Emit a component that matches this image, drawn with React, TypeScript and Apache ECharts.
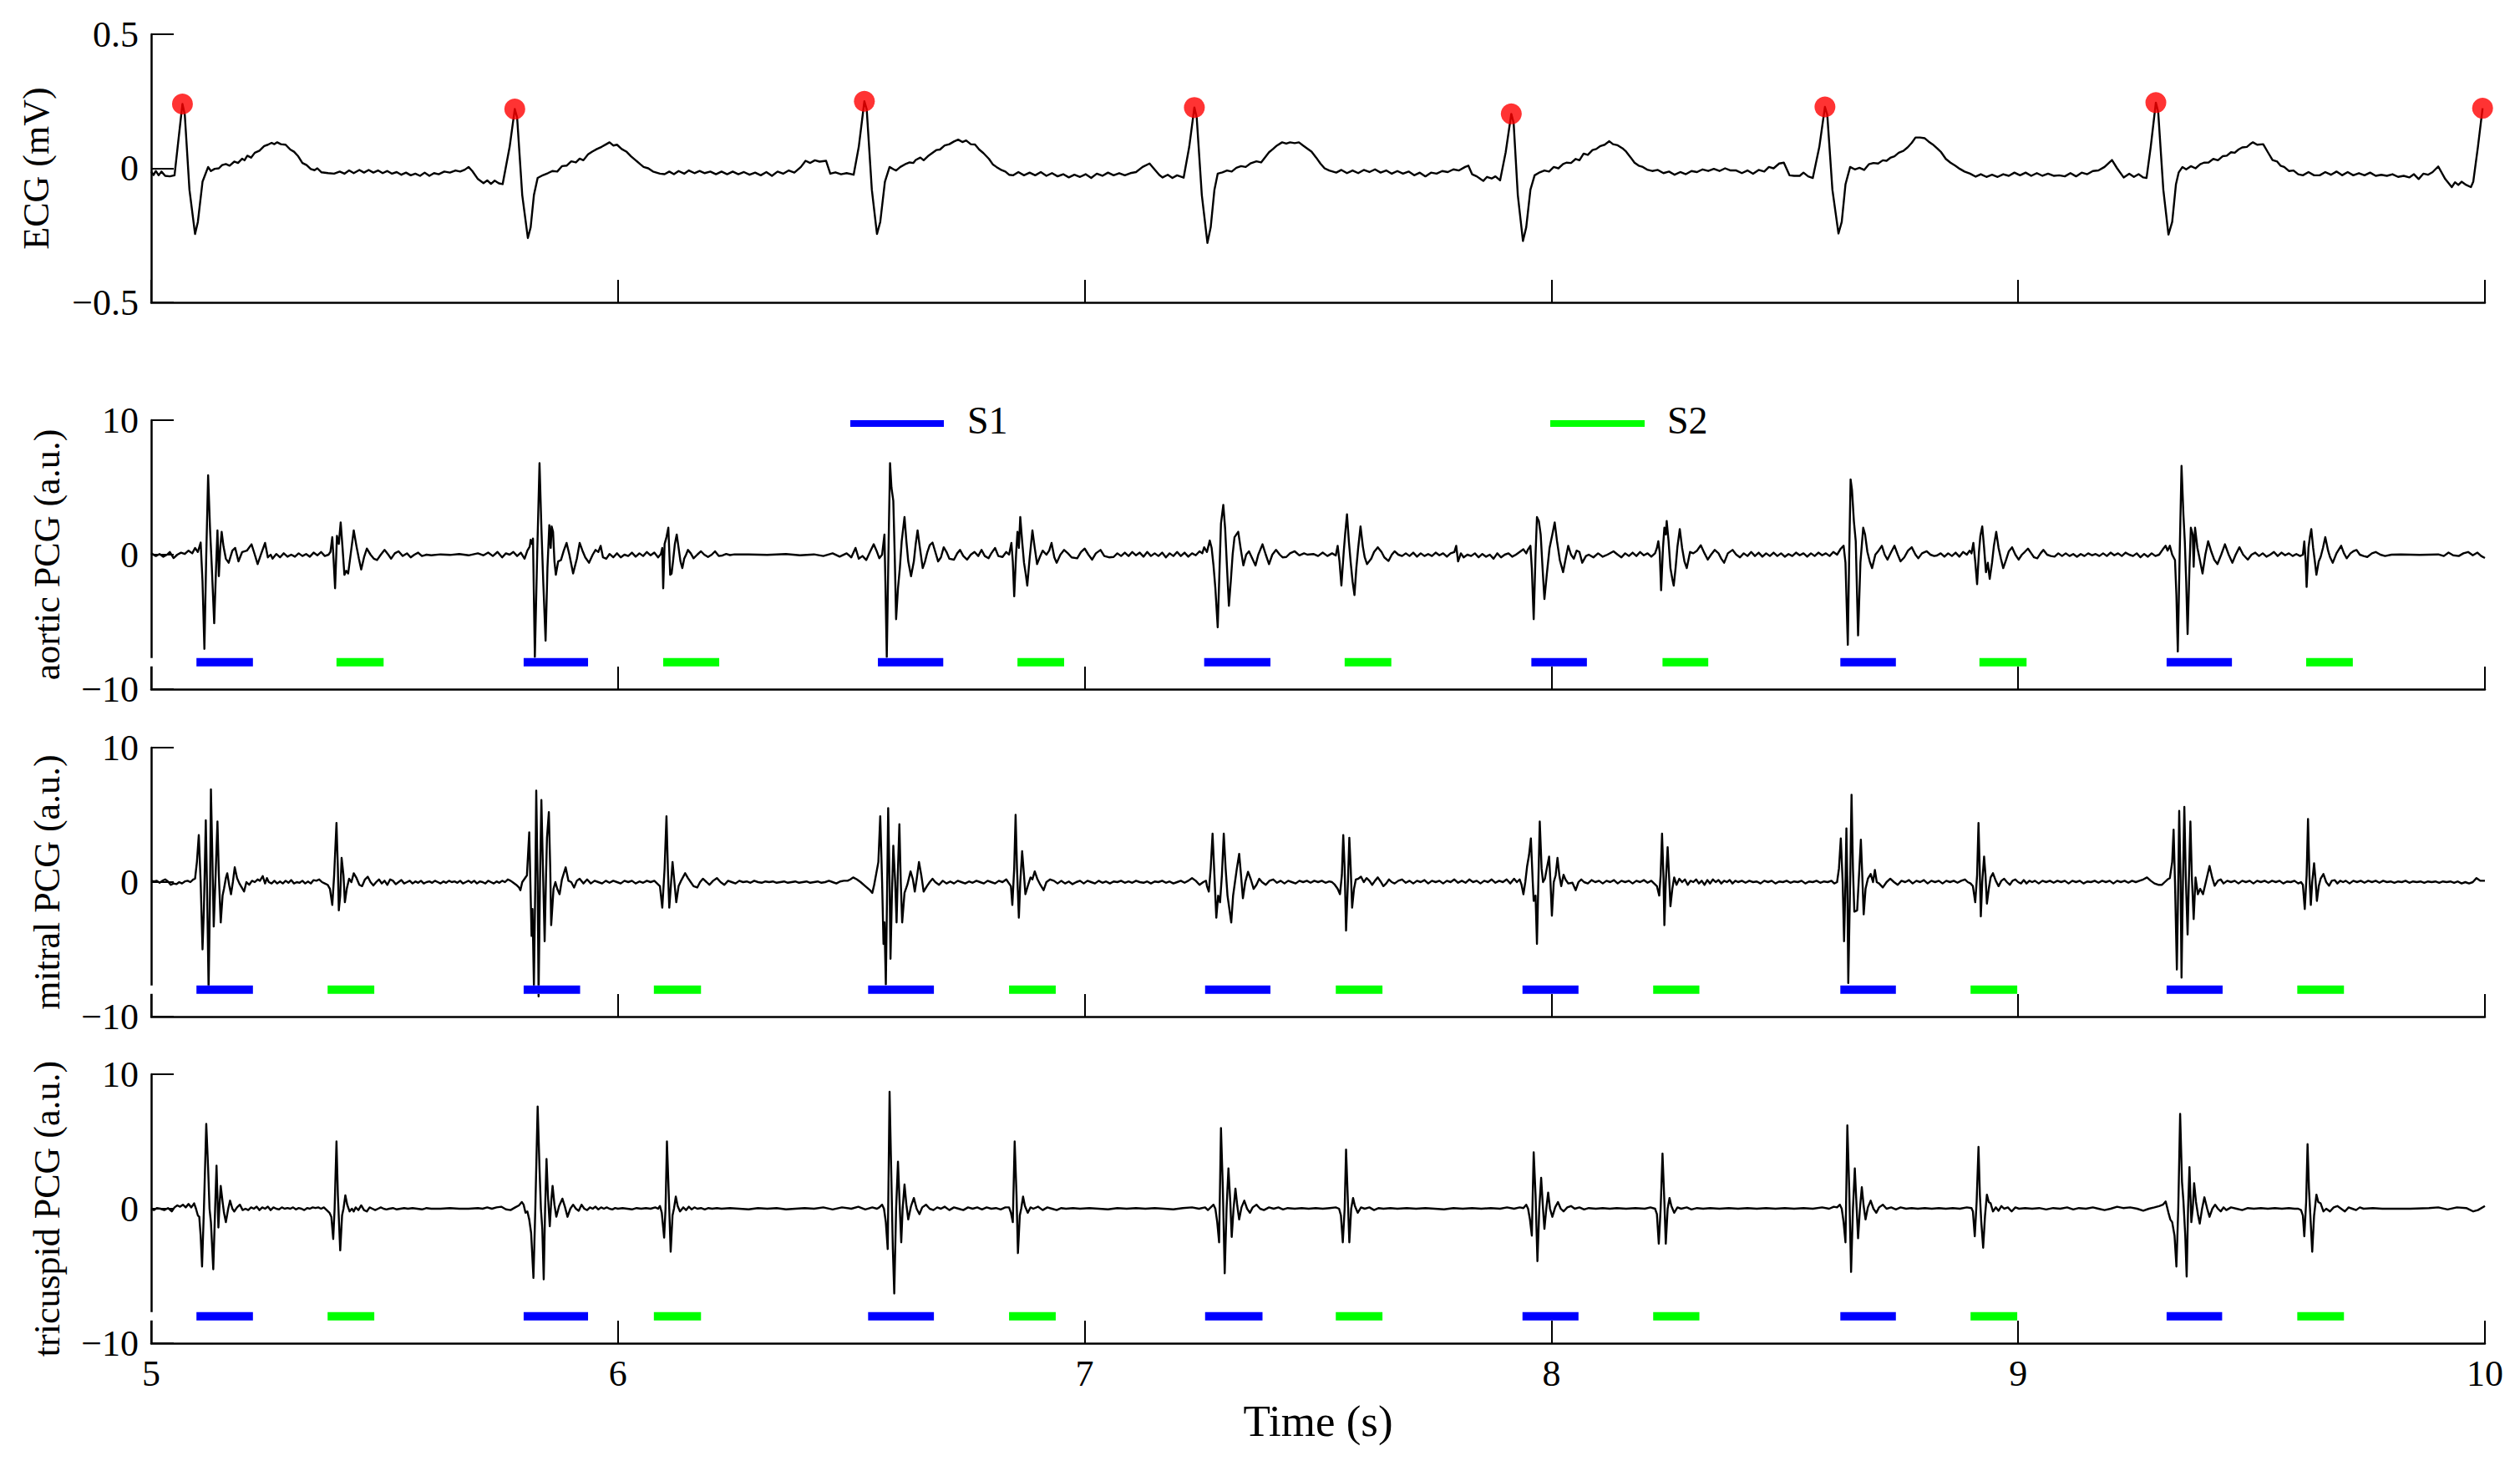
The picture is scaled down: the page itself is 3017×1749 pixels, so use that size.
import React, { useEffect, useRef } from 'react';
import * as echarts from 'echarts';

// ---------- axis settings ----------
const X_MIN = 5;
const X_MAX = 10;
const X_INTERVAL = 1;
const ECG_RANGE = { min: -0.5, max: 0.5, interval: 0.5 };
const PCG_RANGE = { min: -10, max: 10, interval: 10 };
const SEG_LEVEL = -8;
const X_TITLE = 'Time (s)';
const Y_TITLES = ['ECG (mV)', 'aortic PCG (a.u.)', 'mitral PCG (a.u.)', 'tricuspid PCG (a.u.)'];

// ---------- ECG (mV) ----------
const ecg: number[][] = [
  [5.000,-0.012],[5.005,-0.025],[5.010,-0.010],[5.016,-0.026],[5.022,-0.012],[5.030,-0.028],[5.040,-0.030],[5.050,-0.026],
  [5.058,0.10],[5.067,0.240],[5.072,0.20],[5.082,-0.08],[5.094,-0.245],[5.100,-0.20],[5.110,-0.05],[5.122,0.005],[5.128,-0.010],[5.136,-0.002],[5.145,0.000],[5.152,0.012],[5.160,0.016],[5.168,0.010],[5.178,0.025],[5.186,0.020],[5.195,0.036],[5.200,0.030],[5.206,0.047],[5.214,0.040],[5.222,0.058],[5.232,0.066],[5.242,0.083],[5.250,0.088],[5.258,0.095],[5.264,0.090],[5.270,0.097],[5.278,0.090],[5.288,0.088],[5.298,0.070],[5.306,0.062],[5.315,0.045],[5.324,0.020],[5.333,0.012],[5.342,-0.003],[5.350,-0.007],[5.356,0.000],[5.365,-0.015],[5.379,-0.018],
  [5.392,-0.020],[5.404,-0.012],[5.414,-0.020],[5.424,-0.008],[5.434,-0.018],[5.446,-0.006],[5.456,-0.016],[5.466,-0.006],[5.476,-0.016],[5.486,-0.008],[5.496,-0.018],[5.506,-0.010],[5.516,-0.020],[5.526,-0.014],[5.536,-0.024],[5.546,-0.016],[5.556,-0.026],[5.566,-0.020],[5.576,-0.028],[5.586,-0.016],[5.596,-0.028],[5.606,-0.018],[5.616,-0.022],[5.628,-0.012],[5.640,-0.016],[5.652,-0.008],[5.662,-0.012],
  [5.672,-0.005],[5.680,0.005],[5.688,-0.010],[5.700,-0.040],[5.712,-0.055],[5.720,-0.045],[5.728,-0.058],[5.736,-0.046],[5.745,-0.056],[5.753,-0.059],
  [5.768,0.08],[5.779,0.221],[5.784,0.19],[5.795,-0.10],[5.807,-0.26],[5.813,-0.22],[5.820,-0.10],[5.828,-0.036],[5.840,-0.025],[5.850,-0.018],[5.860,-0.010],[5.870,-0.012],[5.880,0.008],[5.890,0.010],[5.900,0.026],[5.910,0.022],[5.918,0.036],[5.926,0.030],[5.936,0.052],[5.945,0.0625],[5.955,0.072],[5.965,0.080],[5.975,0.090],[5.982,0.097],[5.990,0.085],[5.998,0.088],[6.008,0.072],[6.018,0.0625],[6.028,0.045],[6.038,0.030],[6.048,0.015],[6.055,0.005],[6.065,0.000],[6.075,-0.012],[6.090,-0.020],
  [6.100,-0.022],[6.110,-0.012],[6.120,-0.022],[6.130,-0.010],[6.142,-0.020],[6.152,-0.008],[6.164,-0.018],[6.175,-0.010],[6.186,-0.018],[6.198,-0.012],[6.210,-0.022],[6.222,-0.012],[6.234,-0.022],[6.246,-0.012],[6.258,-0.022],[6.270,-0.014],[6.282,-0.024],[6.294,-0.016],[6.306,-0.026],[6.318,-0.014],[6.330,-0.028],[6.342,-0.012],[6.354,-0.020],[6.366,-0.008],[6.378,-0.016],
  [6.392,0.005],[6.402,0.028],[6.412,0.020],[6.422,0.030],[6.432,0.025],[6.446,0.028],[6.455,-0.020],[6.466,-0.015],[6.478,-0.022],[6.490,-0.018],[6.505,-0.024],
  [6.516,0.08],[6.528,0.250],[6.533,0.22],[6.544,-0.08],[6.555,-0.245],[6.562,-0.20],[6.572,-0.05],[6.582,0.005],[6.590,-0.003],[6.596,-0.008],[6.605,0.005],[6.615,0.015],[6.625,0.022],[6.633,0.020],[6.638,0.031],[6.648,0.040],[6.655,0.030],[6.664,0.045],[6.672,0.055],[6.682,0.068],[6.690,0.070],[6.700,0.085],[6.710,0.090],[6.720,0.100],[6.729,0.107],[6.738,0.098],[6.746,0.104],[6.756,0.090],[6.765,0.089],[6.774,0.070],[6.783,0.057],[6.795,0.035],[6.803,0.015],[6.811,0.005],[6.820,-0.005],[6.830,-0.012],[6.838,-0.024],[6.847,-0.026],
  [6.858,-0.014],[6.870,-0.026],[6.882,-0.016],[6.894,-0.026],[6.906,-0.014],[6.918,-0.028],[6.930,-0.018],[6.942,-0.030],[6.954,-0.022],[6.966,-0.034],[6.978,-0.024],[6.990,-0.032],[7.002,-0.022],[7.014,-0.036],[7.026,-0.020],[7.038,-0.028],[7.050,-0.016],[7.062,-0.026],[7.074,-0.018],[7.086,-0.026],[7.098,-0.018],[7.110,-0.014],
  [7.124,0.005],[7.139,0.018],[7.150,-0.005],[7.160,-0.025],[7.167,-0.034],[7.178,-0.024],[7.188,-0.036],[7.198,-0.026],[7.212,-0.035],
  [7.224,0.08],[7.235,0.227],[7.240,0.19],[7.251,-0.10],[7.263,-0.278],[7.270,-0.22],[7.278,-0.08],[7.285,-0.020],[7.295,-0.015],[7.305,-0.008],[7.315,-0.012],[7.325,0.002],[7.335,0.008],[7.345,0.005],[7.355,0.018],[7.368,0.026],[7.378,0.022],[7.386,0.040],[7.395,0.060],[7.404,0.073],[7.412,0.085],[7.423,0.097],[7.432,0.092],[7.440,0.097],[7.450,0.094],[7.459,0.097],[7.468,0.085],[7.476,0.075],[7.486,0.0625],[7.496,0.040],[7.505,0.018],[7.514,0.000],[7.524,-0.008],
  [7.539,-0.016],[7.550,-0.006],[7.562,-0.018],[7.574,-0.008],[7.586,-0.018],[7.598,-0.006],[7.610,-0.014],[7.622,-0.004],[7.634,-0.016],[7.646,-0.008],[7.658,-0.020],[7.670,-0.010],[7.682,-0.020],[7.694,-0.012],[7.706,-0.026],[7.718,-0.016],[7.730,-0.030],[7.742,-0.016],[7.754,-0.020],[7.766,-0.010],[7.778,-0.014],[7.790,-0.004],[7.802,-0.008],[7.815,0.005],
  [7.822,0.010],[7.830,-0.022],[7.840,-0.030],[7.848,-0.040],[7.854,-0.047],[7.862,-0.032],[7.872,-0.038],[7.880,-0.030],[7.890,-0.045],
  [7.902,0.06],[7.914,0.203],[7.919,0.17],[7.928,-0.10],[7.939,-0.271],[7.946,-0.22],[7.955,-0.08],[7.964,-0.026],[7.975,-0.015],[7.985,-0.008],[7.995,-0.012],[8.005,0.005],[8.015,0.000],[8.025,0.016],[8.032,0.021],[8.042,0.020],[8.052,0.035],[8.060,0.030],[8.069,0.055],[8.078,0.050],[8.088,0.068],[8.096,0.072],[8.105,0.083],[8.114,0.088],[8.124,0.101],[8.132,0.090],[8.142,0.086],[8.152,0.075],[8.160,0.0625],[8.170,0.040],[8.178,0.021],[8.187,0.010],[8.196,0.005],[8.205,-0.005],
  [8.216,-0.010],[8.228,-0.006],[8.240,-0.018],[8.252,-0.012],[8.264,-0.024],[8.276,-0.014],[8.288,-0.022],[8.300,-0.010],[8.312,-0.014],[8.324,-0.004],[8.336,-0.010],[8.348,-0.002],[8.360,-0.010],[8.372,0.000],[8.384,-0.008],[8.396,-0.008],[8.408,-0.018],[8.420,-0.008],[8.432,-0.020],[8.444,-0.006],[8.456,-0.012],[8.466,0.005],[8.476,0.000],[8.488,0.018],[8.498,0.021],
  [8.510,-0.026],[8.520,-0.028],[8.532,-0.028],[8.540,-0.016],[8.550,-0.030],[8.560,-0.036],
  [8.574,0.08],[8.586,0.229],[8.591,0.20],[8.602,-0.08],[8.615,-0.243],[8.622,-0.20],[8.630,-0.06],[8.640,0.005],[8.650,-0.004],[8.660,0.002],[8.670,-0.006],[8.680,0.015],[8.690,0.020],[8.700,0.018],[8.710,0.030],[8.718,0.028],[8.726,0.039],[8.735,0.045],[8.744,0.058],[8.754,0.065],[8.763,0.078],[8.772,0.095],[8.780,0.115],[8.790,0.115],[8.800,0.112],[8.808,0.100],[8.817,0.089],[8.826,0.075],[8.835,0.060],[8.845,0.035],[8.855,0.021],[8.865,0.010],[8.875,-0.002],[8.885,-0.012],[8.897,-0.020],[8.909,-0.031],
  [8.920,-0.022],[8.932,-0.032],[8.944,-0.024],[8.956,-0.032],[8.968,-0.022],[8.980,-0.028],[8.992,-0.016],[9.004,-0.026],[9.016,-0.016],[9.028,-0.028],[9.040,-0.018],[9.052,-0.028],[9.064,-0.020],[9.076,-0.028],[9.088,-0.026],[9.100,-0.030],[9.112,-0.018],[9.124,-0.030],[9.136,-0.016],[9.148,-0.022],[9.160,-0.010],[9.172,-0.008],[9.185,0.005],
  [9.201,0.031],[9.212,0.000],[9.226,-0.034],[9.238,-0.020],[9.248,-0.032],[9.258,-0.022],[9.268,-0.034],[9.275,-0.036],
  [9.284,0.08],[9.295,0.245],[9.300,0.21],[9.311,-0.08],[9.322,-0.247],[9.330,-0.20],[9.338,-0.06],[9.344,-0.015],[9.352,0.005],[9.360,-0.004],[9.370,0.008],[9.380,0.000],[9.390,0.015],[9.398,0.021],[9.408,0.022],[9.418,0.035],[9.428,0.030],[9.438,0.045],[9.447,0.047],[9.456,0.060],[9.464,0.058],[9.472,0.070],[9.480,0.078],[9.490,0.080],[9.497,0.090],[9.503,0.097],[9.512,0.088],[9.525,0.090],[9.535,0.060],[9.545,0.031],[9.555,0.025],[9.562,0.010],[9.570,0.005],[9.580,-0.010],[9.590,-0.008],[9.600,-0.022],[9.610,-0.026],
  [9.622,-0.014],[9.634,-0.026],[9.646,-0.026],[9.658,-0.014],[9.670,-0.024],[9.682,-0.012],[9.694,-0.026],[9.706,-0.014],[9.718,-0.026],[9.730,-0.018],[9.742,-0.026],[9.754,-0.016],[9.766,-0.028],[9.778,-0.024],[9.790,-0.028],[9.802,-0.022],[9.814,-0.032],[9.826,-0.028],[9.838,-0.034],[9.848,-0.022],[9.858,-0.040],[9.868,-0.020],[9.878,-0.024],[9.888,-0.014],[9.900,0.007],
  [9.915,-0.040],[9.929,-0.070],[9.936,-0.052],[9.943,-0.062],[9.950,-0.050],[9.960,-0.062],[9.970,-0.070],[9.975,-0.050],[9.985,0.08],[9.995,0.224]
];

// R-peak markers
const rPeaks: number[][] = [
  [5.067,0.240],[5.779,0.221],[6.528,0.250],[7.235,0.227],[7.914,0.203],[8.586,0.229],[9.295,0.245],[9.995,0.224]
];

// ---------- aortic PCG ----------
const aortic: number[][] = [
  [5.000,0.1],[5.010,-0.1],[5.018,0.05],[5.026,-0.15],[5.034,0.0],[5.040,0.2],[5.048,-0.25],[5.056,0.0],[5.064,0.15],[5.072,0.05],[5.080,0.3],[5.088,0.1],[5.094,0.5],[5.100,0.2],
  [5.106,0.9],[5.110,-2.0],[5.114,-7.0],[5.118,0.0],[5.122,5.9],[5.126,2.0],[5.130,-1.0],[5.135,-5.1],[5.139,-1.0],[5.142,1.8],[5.145,-1.6],[5.148,0.5],[5.151,1.7],[5.155,0.6],[5.160,-0.3],[5.166,-0.6],[5.174,0.3],[5.180,0.5],[5.187,-0.5],[5.195,0.2],[5.205,0.3],[5.215,0.77],[5.222,0.0],[5.228,-0.7],[5.236,0.1],[5.244,0.87],[5.250,-0.2],[5.256,0.0],[5.260,-0.3],[5.268,0.05],[5.276,-0.2],[5.284,0.1],[5.292,-0.15],[5.300,0.0],[5.308,-0.15],[5.316,0.1],[5.324,-0.1],[5.332,0.05],[5.340,-0.15],[5.348,0.15],[5.356,-0.05],[5.364,0.2],[5.372,-0.1],[5.380,0.0],
  [5.384,0.2],[5.388,1.3],[5.391,-0.5],[5.394,-2.5],[5.398,1.4],[5.402,0.8],[5.406,2.4],[5.410,0.5],[5.414,-1.5],[5.418,-1.2],[5.422,-1.4],[5.428,0.2],[5.434,1.8],[5.440,0.6],[5.445,-0.3],[5.450,-1.1],[5.456,-0.2],[5.462,0.45],[5.470,0.0],[5.477,-0.3],[5.484,-0.4],[5.492,0.0],[5.500,0.35],[5.508,0.0],[5.514,-0.3],[5.522,0.1],[5.530,0.25],[5.539,-0.1],[5.548,0.1],[5.556,-0.2],[5.564,0.0],[5.572,0.15],[5.580,-0.1],[5.590,0.0],[5.600,-0.05],
  [5.620,0.02],[5.640,-0.02],[5.660,0.05],[5.680,-0.05],[5.700,0.1],[5.712,-0.05],[5.722,0.15],[5.732,-0.1],[5.742,0.2],[5.752,-0.2],[5.760,0.1],[5.768,0.0],[5.776,0.2],[5.784,-0.1],[5.792,0.15],[5.800,-0.3],[5.806,0.3],[5.811,0.6],
  [5.813,1.1],[5.816,0.8],[5.818,1.2],[5.822,-7.6],[5.827,0.0],[5.832,6.8],[5.836,2.0],[5.840,-2.0],[5.845,-6.4],[5.849,-1.0],[5.853,2.2],[5.856,0.5],[5.858,2.1],[5.861,1.7],[5.864,-0.5],[5.867,-1.5],[5.872,-0.5],[5.878,-0.4],[5.884,0.3],[5.890,0.87],[5.896,0.0],[5.904,-1.4],[5.912,-0.3],[5.918,0.87],[5.924,0.3],[5.930,-0.2],[5.938,-0.6],[5.946,0.0],[5.952,0.35],[5.958,0.2],[5.963,0.66],[5.968,-0.2],[5.975,-0.3],[5.982,0.05],[5.990,-0.2],[5.998,0.1],[6.006,-0.2],[6.014,0.0],[6.022,-0.1],[6.030,0.15],[6.038,-0.15],[6.046,0.1],[6.054,-0.1],[6.062,0.2],[6.070,-0.05],[6.078,0.15],[6.086,-0.2],[6.092,0.05],
  [6.095,0.5],[6.097,-2.5],[6.100,0.8],[6.104,1.3],[6.108,2.0],[6.112,-1.5],[6.115,-1.4],[6.118,-0.5],[6.122,0.8],[6.126,1.5],[6.130,0.5],[6.134,-0.5],[6.138,-1.0],[6.142,-0.3],[6.146,0.0],[6.150,0.35],[6.156,0.1],[6.162,-0.27],[6.170,0.0],[6.178,0.25],[6.185,0.0],[6.193,-0.17],[6.201,0.0],[6.208,0.25],[6.216,-0.1],[6.224,-0.06],[6.232,0.05],[6.240,-0.03],[6.250,0.02],
  [6.280,0.02],[6.320,-0.02],[6.360,0.05],[6.390,-0.05],[6.420,0.02],[6.440,-0.1],[6.460,0.1],[6.475,-0.15],[6.490,0.1],[6.500,-0.2],[6.509,0.5],[6.516,-0.3],[6.524,-0.1],[6.532,-0.4],[6.540,0.2],[6.548,0.77],[6.554,0.3],[6.560,-0.27],[6.566,0.0],
  [6.571,1.5],[6.573,-2.0],[6.576,-7.6],[6.580,1.0],[6.583,6.8],[6.586,5.0],[6.590,4.0],[6.593,0.0],[6.596,-4.8],[6.600,-2.5],[6.604,-1.0],[6.608,1.0],[6.614,2.8],[6.618,1.0],[6.622,-0.5],[6.628,-1.6],[6.634,-0.5],[6.638,0.8],[6.642,1.8],[6.647,0.5],[6.653,-1.0],[6.658,-0.5],[6.663,0.2],[6.668,0.7],[6.674,0.9],[6.680,0.2],[6.686,-0.5],[6.692,-0.2],[6.698,0.55],[6.704,0.2],[6.710,-0.3],[6.720,-0.37],[6.727,0.1],[6.733,0.35],[6.740,-0.1],[6.748,-0.37],[6.756,0.0],[6.764,0.2],[6.772,-0.1],[6.779,0.35],[6.786,-0.1],[6.794,-0.27],[6.800,0.1],[6.808,0.5],[6.815,-0.1],[6.824,-0.17],[6.832,0.2],[6.838,0.0],
  [6.843,0.87],[6.846,-0.5],[6.849,-3.1],[6.853,0.0],[6.856,1.7],[6.859,0.5],[6.862,2.8],[6.866,1.0],[6.870,-0.6],[6.874,-1.5],[6.877,-2.3],[6.882,-0.3],[6.888,1.8],[6.893,0.5],[6.898,-0.7],[6.904,-0.17],[6.910,0.3],[6.918,0.0],[6.924,0.3],[6.929,0.87],[6.935,-0.2],[6.940,-0.6],[6.948,0.0],[6.956,0.35],[6.964,0.1],[6.972,-0.2],[6.984,-0.27],[6.992,0.2],[7.000,0.45],[7.008,0.0],[7.016,-0.37],[7.024,0.1],[7.034,0.35],[7.042,-0.1],[7.052,-0.2],[7.062,-0.17],[7.070,0.1],[7.078,-0.1],[7.086,0.15],[7.094,-0.1],[7.102,0.2],[7.110,-0.05],[7.118,0.15],[7.126,-0.15],[7.134,0.2],[7.142,-0.1],[7.150,0.1],[7.158,-0.1],[7.166,0.15],[7.174,-0.2],[7.182,0.1],[7.190,-0.1],[7.198,0.2],[7.206,-0.1],[7.214,0.15],[7.222,-0.15],[7.230,0.1],[7.238,-0.05],[7.246,0.25],[7.252,0.1],
  [7.256,0.55],[7.262,0.2],[7.268,1.05],[7.272,0.5],[7.276,-0.8],[7.280,-2.5],[7.285,-5.4],[7.289,-1.0],[7.292,2.3],[7.297,3.7],[7.301,1.9],[7.305,-1.0],[7.309,-3.8],[7.313,-2.0],[7.317,0.0],[7.321,1.3],[7.329,1.7],[7.334,0.5],[7.340,-0.8],[7.346,0.0],[7.352,0.25],[7.358,-0.2],[7.366,-0.8],[7.372,0.0],[7.381,0.77],[7.388,0.0],[7.395,-0.7],[7.402,0.0],[7.410,0.35],[7.418,0.0],[7.424,-0.2],[7.432,-0.17],[7.440,0.1],[7.450,0.25],[7.460,-0.05],[7.470,0.1],[7.477,0.0],[7.490,0.05],[7.500,-0.1],[7.510,0.15],[7.520,-0.1],[7.530,0.1],[7.538,-0.06],
  [7.542,0.66],[7.546,-0.5],[7.550,-2.3],[7.555,0.2],[7.558,1.5],[7.562,3.0],[7.566,1.0],[7.570,-0.6],[7.574,-2.0],[7.578,-3.0],[7.582,-1.0],[7.586,0.5],[7.591,2.1],[7.596,0.6],[7.600,-0.2],[7.605,-0.7],[7.614,-0.3],[7.620,0.2],[7.628,0.55],[7.636,0.2],[7.642,-0.2],[7.651,-0.47],[7.658,0.0],[7.664,0.25],[7.672,0.0],[7.680,-0.1],[7.688,0.1],[7.696,-0.1],[7.704,0.15],[7.712,-0.15],[7.720,0.1],[7.728,-0.1],[7.736,0.05],[7.744,-0.1],[7.752,0.15],[7.760,-0.05],[7.768,0.1],[7.776,-0.15],[7.784,0.1],[7.792,0.2],[7.796,0.66],[7.800,-0.5],[7.806,0.1],[7.812,-0.2],[7.820,0.0],[7.828,-0.1],[7.836,0.1],[7.844,-0.2],[7.852,0.05],[7.860,-0.15],[7.868,0.0],[7.876,-0.3],[7.884,0.1],[7.892,-0.2],[7.900,0.0],[7.908,0.1],[7.916,-0.15],[7.924,0.0],[7.932,0.2],[7.940,0.4],[7.946,0.1],[7.950,0.4],
  [7.955,0.66],[7.958,-1.0],[7.962,-4.8],[7.966,0.0],[7.969,2.8],[7.973,2.5],[7.977,1.5],[7.981,-1.0],[7.985,-3.3],[7.990,-1.5],[7.996,0.5],[8.002,1.5],[8.007,2.4],[8.012,1.0],[8.018,-0.4],[8.025,-1.3],[8.031,-0.2],[8.036,0.66],[8.042,0.0],[8.048,-0.3],[8.054,0.3],[8.060,0.2],[8.066,-0.6],[8.074,-0.1],[8.080,0.0],[8.090,-0.2],[8.100,0.1],[8.110,-0.15],[8.120,0.0],[8.133,0.25],[8.142,0.0],[8.150,-0.2],[8.158,0.1],[8.166,-0.1],[8.174,0.15],[8.182,-0.1],[8.190,0.2],[8.198,-0.05],[8.206,0.1],[8.214,-0.15],[8.222,0.1],[8.226,0.5],
  [8.229,1.0],[8.232,0.2],[8.235,-2.65],[8.239,0.5],[8.242,2.0],[8.245,1.5],[8.247,2.5],[8.251,1.0],[8.255,-1.0],[8.259,-1.8],[8.262,-2.3],[8.266,-1.0],[8.270,0.6],[8.275,1.9],[8.280,0.5],[8.285,-0.5],[8.290,-1.0],[8.297,0.2],[8.304,0.1],[8.312,0.3],[8.320,0.7],[8.328,0.1],[8.335,-0.37],[8.342,0.0],[8.350,0.35],[8.358,0.1],[8.364,-0.3],[8.370,-0.6],[8.378,0.1],[8.388,0.35],[8.396,0.0],[8.404,-0.2],[8.412,0.1],[8.420,-0.1],[8.428,0.2],[8.436,-0.1],[8.444,0.15],[8.452,-0.15],[8.460,0.1],[8.468,-0.1],[8.476,0.15],[8.484,-0.1],[8.492,0.1],[8.500,-0.15],[8.508,0.05],[8.516,-0.1],[8.524,0.15],[8.532,-0.05],[8.540,0.1],[8.548,-0.15],[8.556,0.1],[8.564,-0.1],[8.572,0.15],[8.580,-0.05],[8.588,0.1],[8.596,-0.1],[8.604,0.2],[8.612,0.0],[8.620,0.45],
  [8.626,0.66],[8.630,-0.6],[8.635,-6.7],[8.638,0.0],[8.641,5.6],[8.644,4.8],[8.648,2.5],[8.652,1.0],[8.657,-6.0],[8.662,-0.6],[8.668,2.0],[8.672,1.5],[8.677,0.2],[8.682,-0.5],[8.687,-1.0],[8.694,0.0],[8.701,0.3],[8.708,0.66],[8.714,0.0],[8.720,-0.37],[8.728,0.2],[8.735,0.66],[8.742,0.0],[8.748,-0.5],[8.756,-0.2],[8.764,0.3],[8.772,0.55],[8.780,0.0],[8.786,-0.27],[8.794,0.1],[8.804,0.25],[8.812,0.0],[8.820,-0.1],[8.826,-0.06],[8.834,0.1],[8.842,-0.15],[8.850,0.1],[8.858,-0.1],[8.866,0.15],[8.874,-0.15],[8.882,0.2],[8.890,0.0],[8.896,0.3],[8.900,0.1],
  [8.904,0.87],[8.908,-0.5],[8.912,-2.2],[8.916,0.2],[8.919,1.4],[8.923,2.1],[8.927,0.5],[8.931,-1.3],[8.935,-0.6],[8.939,-1.8],[8.944,-0.6],[8.948,0.66],[8.953,1.7],[8.958,0.5],[8.963,-0.3],[8.968,-1.0],[8.974,-0.4],[8.980,0.25],[8.987,0.55],[8.994,0.0],[9.001,-0.37],[9.008,0.0],[9.014,0.2],[9.021,0.45],[9.028,0.1],[9.034,-0.2],[9.041,-0.27],[9.048,0.1],[9.054,0.35],[9.062,0.0],[9.070,-0.1],[9.078,-0.15],[9.086,0.1],[9.094,-0.1],[9.102,0.1],[9.110,-0.1],[9.118,0.05],[9.126,-0.15],[9.134,0.05],[9.142,-0.1],[9.150,0.1],[9.158,-0.05],[9.166,0.05],[9.174,-0.1],[9.182,0.1],[9.190,-0.1],[9.198,0.15],[9.206,-0.05],[9.214,0.1],[9.222,-0.1],[9.230,0.15],[9.238,0.0],[9.246,-0.1],[9.254,0.1],[9.262,-0.2],[9.270,0.05],[9.278,-0.15],[9.286,0.1],[9.294,-0.1],[9.302,0.0],[9.310,0.4],[9.316,0.66],[9.320,0.3],
  [9.325,0.66],[9.330,0.0],[9.336,-0.4],[9.339,-3.0],[9.342,-7.2],[9.346,0.0],[9.350,6.6],[9.354,3.0],[9.357,1.0],[9.360,-2.0],[9.363,-5.9],[9.367,-1.0],[9.370,2.0],[9.374,1.5],[9.376,-0.9],[9.379,2.0],[9.384,0.5],[9.388,-0.17],[9.395,-1.4],[9.401,0.0],[9.407,1.0],[9.414,0.2],[9.420,-0.37],[9.427,-0.7],[9.435,0.0],[9.443,0.77],[9.451,0.0],[9.459,-0.6],[9.466,0.0],[9.474,0.55],[9.482,0.0],[9.492,-0.37],[9.500,0.0],[9.508,0.15],[9.516,-0.1],[9.524,0.1],[9.532,-0.15],[9.540,0.0],[9.548,0.2],[9.556,-0.1],[9.564,0.15],[9.572,-0.05],[9.580,0.1],[9.588,-0.1],[9.596,0.05],[9.604,-0.1],[9.610,0.0],
  [9.613,0.98],[9.616,-0.5],[9.618,-2.4],[9.622,0.5],[9.625,1.3],[9.628,1.9],[9.632,0.5],[9.636,-0.6],[9.639,-1.5],[9.644,-0.5],[9.648,-0.17],[9.653,0.5],[9.658,1.3],[9.664,0.3],[9.668,-0.17],[9.674,-0.6],[9.682,0.1],[9.692,0.66],[9.698,0.1],[9.704,-0.27],[9.712,0.1],[9.718,0.25],[9.725,0.35],[9.732,0.0],[9.740,-0.1],[9.748,-0.17],[9.758,0.1],[9.766,0.2],[9.776,0.0],[9.786,-0.1],[9.800,0.0],[9.820,0.02],[9.840,0.0],[9.860,-0.02],[9.880,0.0],[9.900,0.02],[9.912,-0.1],[9.922,0.15],[9.932,-0.05],[9.944,-0.1],[9.954,0.1],[9.964,0.2],[9.974,-0.05],[9.984,0.15],[9.992,-0.1],[10.000,-0.25]
];

// ---------- mitral PCG ----------
const mitral: number[][] = [
  [5.000,0.1],[5.006,0.05],[5.012,0.1],[5.018,-0.05],[5.024,0.1],[5.030,0.2],[5.036,0.05],[5.042,-0.2],[5.048,-0.1],[5.054,-0.15],[5.060,0.0],[5.066,-0.1],[5.072,0.05],[5.078,0.1],[5.084,0.0],[5.090,0.2],
  [5.094,0.25],[5.098,1.5],[5.102,3.5],[5.106,0.0],[5.110,-5.0],[5.113,-2.0],[5.117,4.6],[5.120,-1.0],[5.123,-8.0],[5.126,-1.0],[5.128,6.9],[5.131,2.0],[5.134,-3.3],[5.138,0.5],[5.142,4.5],[5.145,0.5],[5.149,-3.0],[5.153,-1.0],[5.156,-0.5],[5.160,0.3],[5.163,0.66],[5.167,-0.2],[5.171,-0.9],[5.175,0.0],[5.179,1.1],[5.184,0.3],[5.189,-0.1],[5.194,-0.4],[5.199,-0.7],[5.204,0.0],[5.210,-0.2],[5.216,0.1],[5.222,0.0],[5.228,0.2],[5.233,0.1],[5.239,0.45],[5.244,-0.1],[5.248,0.3],[5.252,0.0],[5.258,-0.1],[5.264,0.1],[5.270,-0.1],[5.276,0.05],[5.282,-0.1],[5.288,0.1],[5.294,-0.05],[5.300,0.15],[5.306,-0.1],[5.312,0.0],[5.318,-0.05],[5.324,0.1],[5.330,-0.1],[5.336,0.05],[5.342,-0.1],[5.348,0.15],[5.354,0.1],[5.360,0.2],[5.366,0.0],[5.372,-0.1],[5.378,-0.2],[5.383,-0.5],
  [5.388,-1.7],[5.392,0.5],[5.397,4.4],[5.400,1.0],[5.402,-2.1],[5.405,-1.0],[5.408,1.8],[5.412,0.5],[5.415,-1.5],[5.419,-0.5],[5.424,0.25],[5.429,0.0],[5.434,0.66],[5.440,0.3],[5.446,-0.2],[5.452,-0.3],[5.458,0.2],[5.464,0.4],[5.470,0.0],[5.476,-0.25],[5.482,0.0],[5.488,0.2],[5.494,-0.1],[5.500,0.1],[5.506,-0.2],[5.512,0.2],[5.518,0.1],[5.524,-0.15],[5.530,0.0],[5.536,0.15],[5.542,-0.1],[5.548,0.0],[5.554,0.1],[5.560,-0.1],[5.566,0.05],[5.572,-0.05],[5.578,0.1],[5.584,-0.1],[5.590,0.0],[5.596,0.05],[5.602,-0.05],[5.608,0.1],[5.614,0.0],[5.620,-0.1],[5.626,0.05],[5.632,-0.05],[5.638,0.1],[5.644,0.0],[5.650,0.05],[5.656,-0.05],[5.662,0.1],[5.668,-0.1],[5.674,0.0],[5.680,0.1],[5.686,-0.05],[5.692,0.1],[5.698,-0.1],[5.704,0.05],[5.710,0.0],[5.716,-0.1],[5.722,0.1],[5.728,0.0],[5.734,-0.1],[5.740,0.05],[5.746,-0.05],[5.752,0.1],[5.758,0.0],[5.764,0.2],[5.770,0.1],[5.776,-0.05],[5.782,-0.2],[5.788,-0.4],[5.791,-0.6],
  [5.795,0.0],[5.800,0.25],[5.805,0.5],[5.810,3.7],[5.815,-4.0],[5.817,-2.0],[5.820,-7.7],[5.823,0.0],[5.825,6.8],[5.828,0.0],[5.830,-8.5],[5.833,0.0],[5.836,6.1],[5.840,0.0],[5.843,-4.4],[5.846,0.5],[5.848,3.3],[5.852,5.2],[5.855,1.0],[5.857,-3.2],[5.862,-0.5],[5.866,0.0],[5.870,-0.5],[5.875,-0.9],[5.880,0.2],[5.888,1.1],[5.894,0.1],[5.900,0.0],[5.906,-0.4],[5.912,0.1],[5.918,0.25],[5.926,-0.1],[5.934,0.2],[5.942,-0.1],[5.950,0.1],[5.958,0.0],[5.966,-0.1],[5.974,0.1],[5.982,-0.05],[5.990,0.1],[5.998,0.0],[6.006,-0.1],[6.014,0.1],[6.022,0.0],[6.030,0.1],[6.038,-0.1],[6.046,0.05],[6.054,-0.05],[6.062,0.1],[6.070,0.0],[6.078,0.1],[6.084,-0.1],[6.090,-0.3],
  [6.095,-1.9],[6.100,1.0],[6.104,4.9],[6.107,1.0],[6.110,-1.9],[6.114,0.0],[6.117,1.5],[6.121,0.0],[6.125,-1.5],[6.130,-0.3],[6.136,0.15],[6.144,0.66],[6.150,0.3],[6.156,0.0],[6.162,-0.3],[6.170,-0.4],[6.176,0.0],[6.182,0.25],[6.190,0.0],[6.196,-0.2],[6.204,0.1],[6.212,0.3],[6.220,0.0],[6.228,-0.2],[6.236,0.1],[6.244,0.0],[6.252,-0.1],[6.260,0.1],[6.268,0.0],[6.276,0.05],[6.284,-0.05],[6.292,0.1],[6.300,0.0],[6.308,-0.05],[6.316,0.05],[6.324,0.0],[6.332,0.05],[6.340,-0.05],[6.348,0.0],[6.356,0.05],[6.364,-0.05],[6.372,0.0],[6.380,0.05],[6.388,-0.05],[6.396,0.0],[6.404,0.05],[6.412,-0.05],[6.420,0.0],[6.428,0.05],[6.436,-0.05],[6.444,0.0],[6.452,0.1],[6.460,0.0],[6.468,-0.1],[6.476,0.05],[6.484,0.1],[6.492,0.1],[6.498,0.2],[6.504,0.35],[6.512,0.2],[6.520,0.0],[6.530,-0.3],[6.540,-0.6],[6.545,-0.8],[6.549,-0.2],
  [6.553,0.55],[6.558,1.5],[6.562,4.9],[6.566,0.0],[6.569,-4.6],[6.571,-3.0],[6.574,-7.6],[6.577,0.0],[6.579,5.5],[6.582,0.0],[6.584,-5.7],[6.587,-1.0],[6.590,2.7],[6.594,0.0],[6.597,-3.0],[6.600,1.0],[6.603,4.3],[6.606,0.0],[6.609,-3.0],[6.614,-0.8],[6.620,-0.2],[6.627,0.8],[6.632,0.2],[6.636,-0.7],[6.640,0.2],[6.645,1.5],[6.650,0.5],[6.655,-0.7],[6.662,-0.3],[6.668,0.0],[6.674,0.25],[6.680,0.0],[6.688,-0.2],[6.696,0.1],[6.704,-0.1],[6.712,0.05],[6.720,-0.1],[6.728,0.1],[6.736,0.0],[6.744,-0.1],[6.752,0.05],[6.760,-0.05],[6.768,0.1],[6.776,0.0],[6.784,-0.1],[6.792,0.1],[6.800,0.0],[6.808,-0.1],[6.816,0.1],[6.824,0.0],[6.832,0.2],[6.838,-0.1],[6.842,-0.3],
  [6.845,-1.7],[6.849,1.0],[6.852,5.0],[6.855,1.0],[6.859,-2.65],[6.862,0.0],[6.866,2.3],[6.870,0.5],[6.873,-0.9],[6.878,-0.3],[6.884,0.35],[6.888,0.2],[6.893,0.8],[6.899,0.2],[6.905,-0.2],[6.912,-0.6],[6.918,0.0],[6.926,0.2],[6.934,0.1],[6.942,-0.1],[6.950,0.1],[6.958,-0.1],[6.966,0.05],[6.974,-0.15],[6.982,0.0],[6.990,0.1],[6.998,-0.1],[7.006,0.1],[7.014,0.0],[7.022,-0.1],[7.030,0.1],[7.038,-0.05],[7.046,0.05],[7.054,-0.1],[7.062,0.05],[7.070,0.0],[7.078,0.1],[7.086,-0.05],[7.094,0.05],[7.102,-0.05],[7.110,0.1],[7.118,0.0],[7.126,-0.05],[7.134,0.05],[7.142,-0.1],[7.150,0.05],[7.158,0.0],[7.166,0.1],[7.174,-0.05],[7.182,0.05],[7.190,-0.1],[7.198,0.0],[7.206,0.1],[7.214,-0.05],[7.222,0.1],[7.230,0.3],[7.238,0.1],[7.246,-0.2],[7.254,0.0],[7.260,0.1],
  [7.262,-0.3],[7.266,-0.7],[7.270,1.0],[7.274,3.6],[7.278,0.5],[7.282,-2.65],[7.286,-1.0],[7.290,-1.5],[7.294,0.5],[7.298,3.6],[7.302,1.0],[7.306,-1.0],[7.310,-2.0],[7.314,-3.0],[7.318,-1.0],[7.322,0.0],[7.326,1.0],[7.331,2.1],[7.335,0.5],[7.339,-1.2],[7.344,0.0],[7.350,0.77],[7.356,0.2],[7.362,-0.5],[7.368,-0.2],[7.374,0.25],[7.380,0.0],[7.388,-0.2],[7.396,0.1],[7.404,0.2],[7.412,-0.05],[7.420,0.1],[7.428,-0.1],[7.436,0.1],[7.444,0.0],[7.452,-0.1],[7.460,0.1],[7.468,0.0],[7.476,0.1],[7.484,-0.05],[7.492,0.1],[7.500,0.0],[7.508,0.1],[7.516,-0.05],[7.524,0.05],[7.530,0.0],[7.536,-0.2],[7.542,-0.5],
  [7.547,-0.9],[7.551,0.5],[7.554,3.5],[7.557,1.0],[7.560,-3.6],[7.564,0.0],[7.567,3.3],[7.570,1.0],[7.573,-1.9],[7.577,-0.5],[7.581,0.2],[7.586,0.25],[7.592,0.4],[7.598,0.0],[7.604,0.3],[7.610,0.1],[7.616,-0.2],[7.622,0.1],[7.628,0.35],[7.634,0.05],[7.640,-0.3],[7.646,-0.1],[7.652,0.2],[7.658,0.0],[7.664,-0.1],[7.672,0.1],[7.680,0.2],[7.688,-0.05],[7.696,0.1],[7.704,-0.1],[7.712,0.1],[7.720,0.0],[7.728,0.15],[7.736,-0.1],[7.744,0.1],[7.752,0.0],[7.760,0.1],[7.768,-0.1],[7.776,0.1],[7.784,0.0],[7.792,0.2],[7.800,-0.05],[7.808,0.1],[7.816,-0.05],[7.824,0.2],[7.832,0.0],[7.840,0.1],[7.848,-0.1],[7.856,0.1],[7.864,0.0],[7.872,0.2],[7.880,-0.05],[7.888,0.1],[7.896,0.0],[7.904,0.2],[7.912,-0.1],[7.920,0.25],[7.926,0.0],[7.932,0.2],[7.936,-0.2],
  [7.940,-0.9],[7.944,0.0],[7.948,1.2],[7.952,2.0],[7.956,3.25],[7.960,0.0],[7.962,-1.4],[7.966,-1.0],[7.969,-4.6],[7.972,0.0],[7.975,4.5],[7.979,1.0],[7.982,0.0],[7.986,0.25],[7.990,1.0],[7.995,1.9],[7.998,0.0],[8.001,-2.5],[8.005,0.0],[8.009,0.5],[8.013,1.8],[8.017,0.5],[8.021,-0.3],[8.026,0.55],[8.030,0.2],[8.036,-0.1],[8.045,-0.05],[8.052,-0.6],[8.058,0.0],[8.064,0.2],[8.070,0.0],[8.078,-0.1],[8.086,0.15],[8.094,0.0],[8.102,0.1],[8.110,-0.1],[8.118,0.1],[8.126,0.0],[8.134,0.15],[8.142,-0.1],[8.150,0.1],[8.158,0.0],[8.166,0.1],[8.174,-0.1],[8.182,0.1],[8.190,0.0],[8.198,0.15],[8.206,-0.05],[8.214,0.1],[8.220,-0.1],[8.226,-0.3],
  [8.231,-1.0],[8.234,0.5],[8.237,3.6],[8.240,0.5],[8.242,-3.2],[8.245,0.0],[8.249,2.6],[8.252,0.5],[8.255,-1.8],[8.259,-0.5],[8.263,0.35],[8.268,-0.2],[8.274,0.25],[8.280,0.0],[8.286,0.2],[8.292,-0.2],[8.298,0.1],[8.304,0.0],[8.310,0.2],[8.316,-0.1],[8.322,0.1],[8.328,-0.2],[8.334,0.15],[8.340,-0.1],[8.346,0.2],[8.352,0.0],[8.358,0.15],[8.364,-0.1],[8.370,0.1],[8.376,0.0],[8.382,0.15],[8.388,-0.1],[8.394,0.1],[8.400,0.0],[8.408,0.1],[8.416,-0.05],[8.424,0.1],[8.432,0.0],[8.440,0.05],[8.448,-0.1],[8.456,0.1],[8.464,0.0],[8.472,0.1],[8.480,-0.1],[8.488,0.05],[8.496,0.0],[8.504,0.1],[8.512,-0.05],[8.520,0.05],[8.528,0.0],[8.536,0.1],[8.544,-0.1],[8.552,0.05],[8.560,0.0],[8.568,0.1],[8.576,-0.05],[8.584,0.05],[8.592,0.0],[8.600,0.1],[8.606,-0.1],[8.612,0.0],
  [8.616,1.0],[8.620,3.25],[8.624,0.0],[8.627,-4.4],[8.630,0.0],[8.632,4.0],[8.634,0.0],[8.636,-7.5],[8.640,0.0],[8.643,6.5],[8.646,1.0],[8.649,-2.2],[8.655,-2.1],[8.659,0.5],[8.663,3.15],[8.666,0.5],[8.669,-2.4],[8.673,-0.5],[8.678,0.25],[8.684,0.6],[8.689,0.0],[8.693,0.9],[8.697,0.0],[8.702,-0.1],[8.710,-0.4],[8.718,0.0],[8.726,0.25],[8.734,0.0],[8.742,-0.2],[8.750,0.1],[8.758,0.0],[8.766,0.15],[8.774,-0.1],[8.782,0.1],[8.790,0.0],[8.798,0.15],[8.806,-0.1],[8.814,0.1],[8.822,0.0],[8.830,0.1],[8.838,-0.1],[8.846,0.1],[8.854,0.0],[8.862,0.1],[8.870,-0.05],[8.878,0.1],[8.886,0.2],[8.892,0.0],[8.898,-0.1],[8.903,-0.3],
  [8.908,-1.5],[8.912,0.5],[8.915,4.4],[8.918,0.5],[8.920,-2.55],[8.923,0.0],[8.927,1.9],[8.930,0.5],[8.933,-1.6],[8.937,-0.5],[8.941,0.35],[8.946,0.66],[8.952,0.1],[8.958,-0.3],[8.964,0.1],[8.970,0.25],[8.976,0.0],[8.982,-0.2],[8.988,0.1],[8.994,0.2],[9.000,0.0],[9.006,-0.1],[9.012,0.15],[9.018,-0.1],[9.024,0.1],[9.030,0.0],[9.036,0.1],[9.044,-0.1],[9.052,0.1],[9.060,0.0],[9.068,0.1],[9.076,-0.05],[9.084,0.1],[9.092,0.0],[9.100,0.1],[9.108,-0.1],[9.116,0.1],[9.124,0.0],[9.132,0.1],[9.140,-0.1],[9.148,0.05],[9.156,0.0],[9.164,0.1],[9.172,-0.05],[9.180,0.1],[9.188,0.0],[9.196,0.1],[9.204,-0.1],[9.212,0.1],[9.220,0.0],[9.228,0.1],[9.236,-0.05],[9.244,0.1],[9.252,0.0],[9.260,0.1],[9.268,0.2],[9.276,0.35],[9.284,0.1],[9.292,-0.1],[9.300,-0.2],[9.308,-0.2],[9.314,0.0],[9.320,0.2],
  [9.325,0.3],[9.330,1.5],[9.333,3.9],[9.336,0.0],[9.340,-6.5],[9.343,0.0],[9.345,5.3],[9.348,0.0],[9.350,-7.1],[9.353,0.0],[9.356,5.6],[9.359,0.5],[9.363,-3.9],[9.366,0.5],[9.369,4.5],[9.372,0.5],[9.376,-2.75],[9.380,0.35],[9.385,-0.9],[9.390,-0.5],[9.396,-0.9],[9.402,0.0],[9.410,1.2],[9.416,0.3],[9.421,-0.27],[9.428,0.1],[9.434,0.2],[9.440,-0.1],[9.448,0.1],[9.456,0.0],[9.464,0.1],[9.472,-0.1],[9.480,0.1],[9.488,0.0],[9.496,0.1],[9.504,-0.1],[9.512,0.1],[9.520,0.0],[9.528,0.1],[9.536,-0.05],[9.544,0.1],[9.552,0.0],[9.560,0.1],[9.568,-0.1],[9.576,0.05],[9.584,0.0],[9.592,0.1],[9.600,-0.1],[9.606,0.0],[9.610,-0.2],
  [9.614,-2.0],[9.618,0.5],[9.621,4.7],[9.624,0.5],[9.627,-1.7],[9.630,0.0],[9.634,1.4],[9.637,0.2],[9.640,-1.4],[9.644,-0.3],[9.648,0.25],[9.654,0.6],[9.660,0.0],[9.666,-0.27],[9.672,0.1],[9.678,0.15],[9.684,-0.1],[9.690,0.1],[9.696,0.0],[9.702,0.1],[9.710,-0.1],[9.718,0.1],[9.726,0.0],[9.734,0.1],[9.742,-0.05],[9.750,0.1],[9.758,0.0],[9.766,0.1],[9.774,-0.05],[9.782,0.1],[9.790,0.0],[9.798,0.05],[9.806,-0.05],[9.814,0.05],[9.822,0.0],[9.830,0.1],[9.838,-0.05],[9.846,0.05],[9.854,0.0],[9.862,0.05],[9.870,-0.05],[9.878,0.05],[9.886,0.0],[9.894,0.05],[9.902,-0.05],[9.910,0.05],[9.918,0.0],[9.926,0.05],[9.934,-0.05],[9.942,0.05],[9.950,-0.1],[9.958,0.0],[9.966,-0.1],[9.974,0.0],[9.982,0.3],[9.990,0.1],[10.000,0.1]
];

// ---------- tricuspid PCG ----------
const tricuspid: number[][] = [
  [5.000,0.0],[5.006,-0.1],[5.012,0.05],[5.020,0.0],[5.028,-0.1],[5.036,0.05],[5.044,-0.2],[5.050,0.1],[5.056,0.25],[5.062,0.15],[5.068,0.3],[5.074,0.1],[5.080,0.35],[5.086,0.1],[5.092,0.4],
  [5.096,0.0],[5.100,-0.5],[5.103,-0.6],[5.106,-2.0],[5.109,-4.3],[5.113,0.0],[5.118,6.3],[5.122,3.0],[5.125,0.0],[5.128,-1.0],[5.133,-4.5],[5.137,0.0],[5.140,3.2],[5.144,-1.4],[5.146,0.0],[5.149,1.7],[5.153,0.5],[5.156,-0.3],[5.160,-1.0],[5.165,0.0],[5.169,0.6],[5.174,0.0],[5.178,-0.2],[5.184,0.1],[5.190,0.3],[5.196,-0.1],[5.202,0.0],[5.208,-0.1],[5.214,0.1],[5.220,0.0],[5.226,0.15],[5.232,-0.1],[5.238,0.1],[5.244,0.0],[5.250,0.15],[5.256,-0.1],[5.262,0.1],[5.268,0.0],[5.274,-0.05],[5.280,0.1],[5.286,0.0],[5.292,0.05],[5.298,0.0],[5.304,0.1],[5.310,-0.05],[5.316,0.05],[5.322,0.0],[5.328,-0.1],[5.334,0.05],[5.340,0.0],[5.346,0.1],[5.352,0.05],[5.358,0.1],[5.364,0.0],[5.370,0.1],[5.376,-0.1],[5.382,-0.3],
  [5.386,-0.6],[5.390,-2.25],[5.393,0.0],[5.397,5.0],[5.400,1.0],[5.405,-3.1],[5.409,-0.5],[5.412,0.0],[5.416,1.0],[5.420,0.3],[5.425,-0.2],[5.430,0.0],[5.434,-0.2],[5.438,0.1],[5.444,-0.1],[5.450,0.25],[5.456,-0.1],[5.462,-0.2],[5.468,0.1],[5.474,0.0],[5.480,-0.1],[5.486,0.0],[5.492,0.1],[5.498,0.0],[5.504,-0.05],[5.510,0.0],[5.518,0.05],[5.526,-0.05],[5.534,0.0],[5.542,0.05],[5.550,0.0],[5.560,0.05],[5.570,0.0],[5.580,-0.05],[5.590,0.05],[5.600,0.0],[5.620,0.0],[5.640,0.05],[5.660,0.0],[5.680,0.0],[5.700,0.05],[5.710,0.0],[5.720,0.1],[5.730,0.0],[5.740,0.1],[5.750,0.15],[5.760,-0.05],[5.770,-0.1],[5.780,0.1],[5.788,0.25],[5.794,0.5],[5.798,0.3],
  [5.802,-0.3],[5.806,-0.2],[5.810,-0.8],[5.814,-1.8],[5.819,-5.15],[5.823,0.0],[5.828,7.6],[5.832,3.0],[5.835,0.0],[5.838,-1.5],[5.841,-5.25],[5.844,0.0],[5.847,3.7],[5.850,1.0],[5.854,-1.3],[5.857,0.5],[5.860,1.7],[5.864,0.3],[5.868,-0.6],[5.874,0.2],[5.881,0.75],[5.886,0.2],[5.892,-0.6],[5.898,0.0],[5.904,0.3],[5.910,0.0],[5.916,-0.15],[5.922,0.3],[5.928,0.0],[5.934,-0.1],[5.940,0.1],[5.946,0.0],[5.952,0.15],[5.958,-0.05],[5.964,0.1],[5.970,0.0],[5.976,0.1],[5.982,0.0],[5.988,-0.05],[5.994,0.05],[6.000,0.0],[6.010,0.05],[6.020,0.0],[6.030,-0.05],[6.040,0.05],[6.050,0.0],[6.060,0.05],[6.070,0.0],[6.080,0.1],[6.086,0.0],[6.090,0.2],[6.094,-0.3],
  [6.099,-2.15],[6.102,0.0],[6.105,5.0],[6.109,1.0],[6.113,-3.2],[6.117,-0.5],[6.120,0.0],[6.124,0.9],[6.128,0.2],[6.133,-0.2],[6.140,0.1],[6.146,-0.1],[6.152,0.15],[6.158,-0.05],[6.164,0.1],[6.170,0.0],[6.178,0.05],[6.186,-0.05],[6.194,0.05],[6.202,0.0],[6.212,0.05],[6.222,0.0],[6.240,0.05],[6.260,0.0],[6.280,-0.05],[6.300,0.05],[6.320,0.0],[6.340,0.05],[6.360,-0.05],[6.380,0.0],[6.400,0.05],[6.420,0.0],[6.440,0.1],[6.460,-0.05],[6.480,0.1],[6.500,0.0],[6.515,0.15],[6.530,-0.05],[6.545,0.1],[6.555,0.0],
  [6.560,0.1],[6.566,0.3],[6.570,0.0],[6.574,-1.0],[6.578,-3.0],[6.582,8.7],[6.586,2.0],[6.589,-3.0],[6.592,-6.3],[6.596,0.0],[6.600,3.5],[6.604,0.0],[6.607,-2.5],[6.610,0.0],[6.614,1.8],[6.618,0.3],[6.622,-0.8],[6.628,0.2],[6.634,0.8],[6.640,0.0],[6.646,-0.4],[6.652,0.1],[6.660,0.3],[6.668,0.0],[6.676,-0.1],[6.684,0.1],[6.692,0.0],[6.700,0.15],[6.710,-0.1],[6.720,0.1],[6.730,0.0],[6.740,-0.1],[6.750,0.1],[6.760,0.0],[6.770,0.1],[6.780,-0.05],[6.790,0.1],[6.800,0.0],[6.810,0.05],[6.820,-0.05],[6.830,0.1],
  [6.838,0.1],[6.842,-0.3],[6.846,-1.0],[6.850,5.0],[6.854,1.0],[6.857,-3.3],[6.861,-0.5],[6.864,0.0],[6.868,0.9],[6.872,0.2],[6.878,-0.3],[6.884,0.1],[6.890,0.0],[6.900,0.15],[6.910,-0.1],[6.920,0.1],[6.930,0.0],[6.940,-0.1],[6.950,0.05],[6.960,0.0],[6.975,0.05],[6.990,0.0],[7.010,0.05],[7.030,0.0],[7.050,-0.05],[7.070,0.05],[7.090,0.0],[7.110,0.05],[7.130,0.0],[7.150,0.05],[7.170,0.0],[7.190,-0.05],[7.210,0.05],[7.230,0.1],[7.245,0.0],[7.258,0.1],[7.264,-0.1],
  [7.270,0.1],[7.276,0.3],[7.280,0.0],[7.284,-1.0],[7.288,-2.5],[7.292,6.0],[7.296,1.5],[7.300,-4.8],[7.304,0.0],[7.308,3.0],[7.312,0.5],[7.315,-2.1],[7.319,0.0],[7.323,1.5],[7.327,0.2],[7.331,-0.8],[7.336,0.1],[7.342,0.6],[7.348,0.0],[7.354,-0.3],[7.360,0.1],[7.368,0.3],[7.376,0.0],[7.384,-0.1],[7.395,0.1],[7.405,0.0],[7.415,0.1],[7.425,-0.05],[7.435,0.05],[7.450,0.0],[7.465,0.05],[7.480,0.0],[7.495,0.05],[7.510,0.0],[7.525,0.05],[7.538,0.1],
  [7.545,0.0],[7.549,-0.5],[7.553,-2.5],[7.557,0.0],[7.560,4.4],[7.564,0.5],[7.567,-2.5],[7.571,0.0],[7.575,0.8],[7.579,0.2],[7.585,-0.3],[7.592,0.1],[7.600,0.0],[7.610,0.1],[7.620,-0.1],[7.630,0.05],[7.640,0.0],[7.655,0.05],[7.670,0.0],[7.690,0.05],[7.710,0.0],[7.730,0.05],[7.750,0.0],[7.770,-0.05],[7.790,0.05],[7.810,0.0],[7.830,0.05],[7.850,0.0],[7.870,0.05],[7.890,0.0],[7.905,0.1],[7.920,0.0],[7.932,0.1],
  [7.940,0.05],[7.946,0.3],[7.950,0.0],[7.954,-0.8],[7.958,-2.0],[7.962,4.2],[7.966,1.0],[7.970,-3.9],[7.974,0.0],[7.978,2.3],[7.982,0.0],[7.985,-1.5],[7.989,0.0],[7.993,1.2],[7.997,0.0],[8.002,-0.6],[8.008,0.1],[8.014,0.5],[8.020,0.0],[8.026,-0.2],[8.034,0.1],[8.042,0.2],[8.050,0.0],[8.060,0.1],[8.070,-0.05],[8.080,0.05],[8.095,0.0],[8.110,0.05],[8.125,0.0],[8.140,0.05],[8.160,0.0],[8.180,0.05],[8.200,0.0],[8.212,0.1],
  [8.222,0.0],[8.226,-0.4],[8.230,-2.6],[8.234,0.0],[8.238,4.1],[8.242,0.5],[8.245,-2.6],[8.249,0.0],[8.253,0.8],[8.257,0.2],[8.263,-0.3],[8.270,0.1],[8.278,0.0],[8.290,0.1],[8.300,-0.05],[8.312,0.05],[8.325,0.0],[8.340,0.05],[8.360,0.0],[8.380,0.05],[8.400,0.0],[8.420,0.05],[8.440,0.0],[8.460,0.05],[8.480,0.0],[8.500,0.05],[8.520,0.0],[8.540,0.05],[8.560,0.0],[8.580,0.1],[8.595,0.0],[8.605,0.15],
  [8.612,0.1],[8.618,0.3],[8.622,0.0],[8.626,-1.0],[8.630,-2.5],[8.634,6.2],[8.638,1.5],[8.642,-4.7],[8.646,0.0],[8.650,3.0],[8.654,0.0],[8.657,-2.2],[8.661,0.0],[8.665,1.6],[8.669,0.2],[8.673,-0.8],[8.678,0.1],[8.684,0.6],[8.690,0.0],[8.696,-0.3],[8.702,0.1],[8.710,0.3],[8.718,0.0],[8.728,0.1],[8.738,-0.05],[8.748,0.1],[8.760,0.0],[8.772,0.05],[8.785,0.0],[8.800,0.05],[8.815,0.0],[8.830,0.05],[8.845,0.0],[8.860,0.05],[8.875,0.0],[8.890,0.1],
  [8.900,0.05],[8.903,-0.2],[8.907,-2.05],[8.911,0.5],[8.915,4.6],[8.918,1.0],[8.921,-1.0],[8.925,-2.9],[8.929,-0.5],[8.933,1.05],[8.937,0.5],[8.941,0.4],[8.946,-0.2],[8.952,0.1],[8.958,-0.15],[8.964,0.2],[8.970,0.0],[8.978,0.1],[8.986,-0.2],[8.994,0.1],[9.002,0.0],[9.015,0.05],[9.030,0.0],[9.045,0.05],[9.060,-0.05],[9.075,0.05],[9.090,0.0],[9.105,0.1],[9.118,-0.05],[9.130,0.05],[9.145,0.0],[9.160,0.1],[9.172,0.0],[9.185,-0.1],[9.198,0.0],[9.212,0.15],[9.225,0.05],[9.240,0.1],[9.255,0.0],[9.268,-0.15],[9.280,0.0],[9.292,0.1],[9.302,0.2],
  [9.310,0.3],[9.316,0.54],[9.322,-0.3],[9.326,-0.8],[9.330,-1.0],[9.335,-2.0],[9.339,-4.3],[9.343,0.0],[9.347,7.06],[9.351,2.0],[9.354,0.6],[9.358,-2.0],[9.361,-5.05],[9.364,0.0],[9.367,3.1],[9.371,-1.0],[9.374,0.0],[9.377,1.9],[9.381,0.5],[9.385,-0.4],[9.389,-1.1],[9.394,0.0],[9.399,0.85],[9.405,0.0],[9.410,-0.6],[9.416,0.0],[9.422,0.3],[9.428,0.0],[9.434,-0.2],[9.440,0.1],[9.446,-0.1],[9.456,0.1],[9.468,0.0],[9.480,-0.1],[9.492,0.05],[9.505,0.0],[9.520,0.05],[9.535,0.0],[9.550,0.05],[9.565,0.0],[9.580,0.05],[9.592,0.0],
  [9.600,0.0],[9.606,-0.1],[9.610,-0.5],[9.613,-2.05],[9.617,0.5],[9.620,4.8],[9.623,1.5],[9.626,-0.5],[9.630,-3.2],[9.634,-0.5],[9.639,1.05],[9.643,0.5],[9.648,0.4],[9.654,-0.2],[9.660,0.0],[9.668,-0.2],[9.676,0.1],[9.684,0.2],[9.692,0.0],[9.700,-0.2],[9.708,0.1],[9.716,0.0],[9.724,-0.1],[9.732,0.1],[9.740,0.0],[9.760,0.05],[9.780,0.0],[9.800,0.0],[9.840,0.0],[9.880,0.05],[9.900,0.1],[9.920,-0.05],[9.940,0.1],[9.960,0.05],[9.975,-0.2],[9.985,-0.1],[10.000,0.2]
];

// ---------- S1 / S2 segmentations [start, end] (s) ----------
const aorticS1: number[][] = [[5.097,5.218],[5.798,5.936],[6.557,6.697],[7.256,7.398],[7.957,8.076],[8.619,8.738],[9.318,9.458]];
const aorticS2: number[][] = [[5.397,5.498],[6.097,6.217],[6.856,6.956],[7.557,7.657],[8.238,8.336],[8.917,9.018],[9.617,9.717]];
const mitralS1: number[][] = [[5.097,5.218],[5.798,5.919],[6.536,6.677],[7.258,7.398],[7.938,8.058],[8.619,8.738],[9.318,9.438]];
const mitralS2: number[][] = [[5.378,5.478],[6.077,6.178],[6.838,6.938],[7.538,7.638],[8.218,8.317],[8.898,8.998],[9.598,9.698]];
const tricuspidS1: number[][] = [[5.097,5.218],[5.798,5.936],[6.536,6.677],[7.258,7.381],[7.938,8.058],[8.619,8.738],[9.318,9.437]];
const tricuspidS2: number[][] = [[5.378,5.478],[6.077,6.178],[6.838,6.938],[7.538,7.638],[8.218,8.317],[8.898,8.998],[9.598,9.698]];

const S1_COLOR = '#0000FF';
const S2_COLOR = '#00FF00';
const FONT = 'Liberation Serif';

const minusFmt = (v: number) => (v < 0 ? '\u2212' + String(Math.abs(v)) : String(v));

export default function App() {
  const ref = useRef<HTMLDivElement>(null);

  useEffect(() => {
    if (!ref.current) return;
    const chart = echarts.init(ref.current, undefined, { renderer: 'svg' });

    const grids = [
      { left: 181, right: 42, top: 41, height: 321 },
      { left: 181, right: 42, top: 503, height: 322 },
      { left: 181, right: 42, top: 895, height: 322 },
      { left: 181, right: 42, top: 1286, height: 322 },
    ];

    const xAxes = grids.map((_, i) => ({
      type: 'value',
      gridIndex: i,
      min: X_MIN,
      max: X_MAX,
      interval: X_INTERVAL,
      splitLine: { show: false },
      axisLine: { show: true, onZero: false, lineStyle: { color: '#000', width: 2.5 } },
      axisTick: { show: true, inside: true, length: 27, lineStyle: { color: '#000', width: 2 } },
      axisLabel: {
        show: i === 3,
        color: '#000',
        fontFamily: FONT,
        fontSize: 44,
        margin: 14,
      },
      name: i === 3 ? X_TITLE : '',
      nameLocation: 'middle',
      nameGap: 66,
      nameTextStyle: { color: '#000', fontFamily: FONT, fontSize: 53 },
    }));

    const yAxes = grids.map((_, i) => {
      const r = i === 0 ? ECG_RANGE : PCG_RANGE;
      return {
        type: 'value',
        gridIndex: i,
        min: r.min,
        max: r.max,
        interval: r.interval,
        splitLine: { show: false },
        axisLine: { show: true, onZero: false, lineStyle: { color: '#000', width: 2.5 } },
        axisTick: { show: true, inside: true, length: 27, lineStyle: { color: '#000', width: 2 } },
        axisLabel: {
          color: '#000',
          fontFamily: FONT,
          fontSize: 44,
          margin: 15,
          formatter: minusFmt,
        },
        name: Y_TITLES[i],
        nameLocation: 'middle',
        nameRotate: 90,
        nameGap: i === 0 ? 116 : 103,
        nameTextStyle: { color: '#000', fontFamily: FONT, fontSize: 44 },
      };
    });

    const segSeries = (idx: number, segs: number[][], color: string) => ({
      type: 'custom',
      xAxisIndex: idx,
      yAxisIndex: idx,
      z: 5,
      data: segs.map((s) => [s[0], s[1], SEG_LEVEL]),
      encode: { x: [0, 1], y: 2 },
      renderItem: (params: any, api: any) => {
        const a = api.coord([api.value(0), api.value(2)]);
        const b = api.coord([api.value(1), api.value(2)]);
        return {
          type: 'rect',
          shape: { x: a[0], y: a[1] - 5, width: b[0] - a[0], height: 10 },
          style: { fill: color },
        };
      },
    });

    const whiteBand = (idx: number) => ({
      type: 'line',
      xAxisIndex: idx,
      yAxisIndex: idx,
      z: 4,
      clip: false,
      symbol: 'none',
      silent: true,
      data: [[X_MIN, SEG_LEVEL], [X_MAX, SEG_LEVEL]],
      lineStyle: { color: '#ffffff', width: 10, cap: 'square' },
    });

    const traceSeries = (idx: number, data: number[][]) => ({
      type: 'line',
      xAxisIndex: idx,
      yAxisIndex: idx,
      z: 2,
      data,
      symbol: 'none',
      showSymbol: false,
      lineStyle: { color: '#000', width: 2.4, join: 'round' },
    });

    const series: any[] = [
      traceSeries(0, ecg),
      {
        type: 'scatter',
        xAxisIndex: 0,
        yAxisIndex: 0,
        z: 6,
        data: rPeaks,
        symbol: 'circle',
        symbolSize: 25,
        itemStyle: { color: '#FF0000' },
      },
      traceSeries(1, aortic),
      whiteBand(1),
      segSeries(1, aorticS1, S1_COLOR),
      segSeries(1, aorticS2, S2_COLOR),
      traceSeries(2, mitral),
      whiteBand(2),
      segSeries(2, mitralS1, S1_COLOR),
      segSeries(2, mitralS2, S2_COLOR),
      traceSeries(3, tricuspid),
      whiteBand(3),
      segSeries(3, tricuspidS1, S1_COLOR),
      segSeries(3, tricuspidS2, S2_COLOR),
    ];

    const graphic = [
      { type: 'line', shape: { x1: 1018, y1: 507, x2: 1130, y2: 507 }, style: { stroke: S1_COLOR, lineWidth: 8 } },
      { type: 'text', x: 1158, y: 503, style: { text: 'S1', fontFamily: FONT, fontSize: 46, fill: '#000', align: 'left', verticalAlign: 'middle' } },
      { type: 'line', shape: { x1: 1856, y1: 507, x2: 1969, y2: 507 }, style: { stroke: S2_COLOR, lineWidth: 8 } },
      { type: 'text', x: 1996, y: 503, style: { text: 'S2', fontFamily: FONT, fontSize: 46, fill: '#000', align: 'left', verticalAlign: 'middle' } },
    ];

    chart.setOption({
      animation: false,
      backgroundColor: '#ffffff',
      textStyle: { fontFamily: FONT },
      grid: grids,
      xAxis: xAxes,
      yAxis: yAxes,
      series,
      graphic,
    });

    return () => chart.dispose();
  }, []);

  return (
    <div
      ref={ref}
      style={{ position: 'fixed', left: 0, top: 0, width: '3017px', height: '1749px', background: '#fff' }}
    />
  );
}
